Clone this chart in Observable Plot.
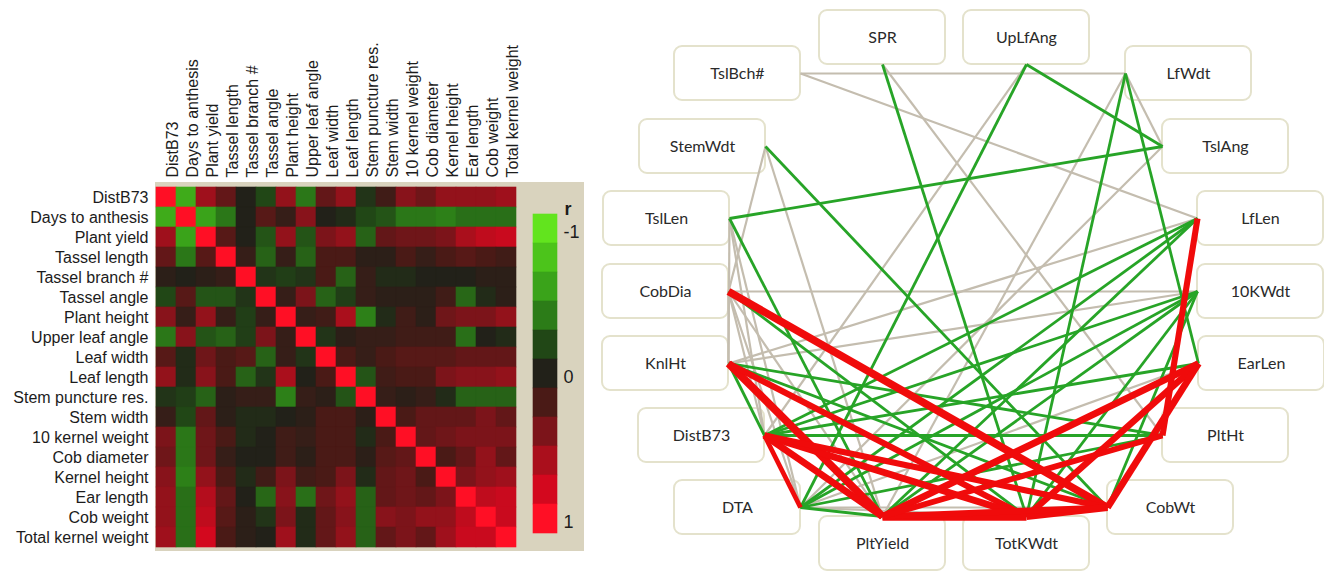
<!DOCTYPE html>
<html><head><meta charset="utf-8">
<script src="https://cdn.jsdelivr.net/npm/d3@7"></script>
<script src="https://cdn.jsdelivr.net/npm/@observablehq/plot@0.6"></script>
<style>
html,body{margin:0;padding:0;background:#fff;}
#wrap{position:relative;width:1324px;height:571px;overflow:hidden;}
#wrap > *{position:absolute;}
#beige{left:155px;top:182px;width:429px;height:369px;background:#d9d3be;}
#heat{left:0;top:0;}
#legend{left:520px;top:190px;}
#net{left:600px;top:0;}
</style></head><body>
<div id="wrap"><div id="beige"></div><div id="heat"></div><div id="legend"></div><div id="net"></div></div>
<script>
// ---------- heatmap data ----------
const traits = ["DistB73","Days to anthesis","Plant yield","Tassel length","Tassel branch #","Tassel angle",
  "Plant height","Upper leaf angle","Leaf width","Leaf length","Stem puncture res.","Stem width",
  "10 kernel weight","Cob diameter","Kernel height","Ear length","Cob weight","Total kernel weight"];
const corr = [
  [1,-0.65,0.55,0.3,0,-0.2,0.5,-0.38,0.3,0.5,-0.1,0.15,0.45,0.35,0.5,0.5,0.5,0.55],
  [-0.65,1,-0.6,-0.38,0,0.25,0.1,0.45,0,-0.05,-0.2,-0.25,-0.38,-0.38,-0.42,-0.35,-0.35,-0.35],
  [0.55,-0.6,1,0.25,0,-0.25,0.5,-0.25,0.4,0.5,-0.3,0.3,0.35,0.35,0.4,0.6,0.7,0.75],
  [0.3,-0.38,0.25,1,0.1,-0.3,0.1,-0.3,0.2,0.2,0.05,0.05,0.2,0.1,0.2,0.25,0.2,0.15],
  [0.05,0,0.05,0.1,1,-0.1,-0.15,-0.1,0.2,-0.3,0.1,-0.05,-0.05,0,0,0,0.05,0.05],
  [-0.2,0.25,-0.25,-0.25,-0.1,1,0.1,0.4,-0.3,-0.15,0.1,0.05,0.05,0.05,0.15,-0.32,-0.05,0.05],
  [0.45,0.1,0.5,0.1,-0.15,0.1,1,0.1,0.15,0.6,-0.42,-0.05,0.15,0.05,0.35,0.4,0.4,0.5],
  [-0.38,0.45,-0.25,-0.3,-0.15,0.4,0.1,1,-0.1,0.05,0.1,0.1,0.15,0.15,0.15,-0.35,0,-0.05],
  [0.25,-0.05,0.35,0.2,0.25,-0.3,0.1,-0.1,1,0.2,0.1,0.2,0.25,0.25,0.25,0.3,0.3,0.3],
  [0.5,-0.05,0.45,0.2,-0.3,-0.1,0.6,0,0.2,1,-0.25,0.15,0.2,0.2,0.4,0.45,0.45,0.5],
  [-0.1,-0.15,-0.3,0.05,0.1,0.1,-0.42,0.1,0.05,-0.25,1,0.1,0.05,0.1,-0.05,-0.3,-0.3,-0.3],
  [0.1,-0.2,0.3,0.05,-0.05,-0.05,0,0.05,0.2,0.2,0.05,1,0.2,0.3,0.3,0.3,0.4,0.3],
  [0.4,-0.38,0.35,0.2,-0.05,0,0.15,0.1,0.2,0.2,-0.05,0.2,1,0.3,0.35,0.4,0.4,0.4],
  [0.35,-0.38,0.35,0.1,0,0,0.15,0.05,0.2,0.2,0.05,0.25,0.3,1,0.2,0.3,0.5,0.3],
  [0.45,-0.42,0.5,0.2,-0.05,0.15,0.4,0.15,0.2,0.4,-0.05,0.3,0.35,0.2,1,0.4,0.5,0.55],
  [0.5,-0.35,0.65,0.3,0,-0.32,0.45,-0.35,0.35,0.5,-0.3,0.3,0.35,0.3,0.4,1,0.7,0.75],
  [0.5,-0.35,0.7,0.25,0.05,-0.1,0.4,-0.05,0.3,0.45,-0.3,0.45,0.4,0.5,0.5,0.7,1,0.75],
  [0.55,-0.35,0.8,0.2,0.05,0,0.55,-0.05,0.3,0.5,-0.3,0.3,0.4,0.3,0.55,0.75,0.75,1]
];
const legendBins = [-1,-0.8,-0.6,-0.4,-0.2,0,0.2,0.4,0.6,0.8,1];
const legendTicks = [-1,0,1];
const binColors = ["#62e41e","#4cc41b","#3aa31a","#2c7c18","#214716","#222119","#4a1a16","#7c141a","#aa0f1c","#d3081e","#ff0f25"];

// ---------- network data ----------
const nodeNames = ["SPR","UpLfAng","TslBch#","LfWdt","StemWdt","TslAng","TslLen","LfLen","CobDia","10KWdt",
  "KnlHt","EarLen","DistB73","PltHt","DTA","CobWt","PltYield","TotKWdt"];
const redEdges = [
  ["LfLen","PltHt",0.7],["CobDia","CobWt",0.8],["KnlHt","PltYield",0.8],["KnlHt","TotKWdt",0.7],
  ["DistB73","PltYield",0.75],["DistB73","TotKWdt",0.75],["DistB73","CobWt",0.7],["DistB73","DTA",0.62],
  ["PltYield","TotKWdt",0.85],["PltYield","EarLen",0.75],["TotKWdt","EarLen",0.72],["TotKWdt","CobWt",0.75],
  ["CobWt","EarLen",0.75],["PltYield","CobWt",0.7],["PltYield","PltHt",0.68]
];
const greenEdges = [
  ["SPR","TotKWdt",0.45],["UpLfAng","TslAng",0.45],["UpLfAng","DTA",0.45],["LfWdt","TotKWdt",0.45],
  ["LfWdt","EarLen",0.45],["TslAng","TslLen",0.45],["StemWdt","CobWt",0.45],["TslLen","PltYield",0.45],
  ["CobDia","TotKWdt",0.45],["LfLen","DistB73",0.45],["LfLen","DTA",0.45],["LfLen","PltYield",0.45],
  ["10KWdt","DistB73",0.45],["10KWdt","DTA",0.45],["10KWdt","PltYield",0.45],["10KWdt","TotKWdt",0.45],
  ["10KWdt","CobWt",0.45],["DistB73","PltHt",0.45],["DistB73","EarLen",0.45],["KnlHt","DTA",0.45],
  ["KnlHt","CobWt",0.45],["KnlHt","PltHt",0.45],["DTA","PltYield",0.45],["DTA","PltHt",0.45]
];
const grayEdges = [
  ["TslBch#","LfWdt",0.3],["TslBch#","LfLen",0.3],["SPR","PltHt",0.3],["UpLfAng","DistB73",0.3],
  ["LfWdt","TslAng",0.3],["LfWdt","PltYield",0.3],["TslAng","DTA",0.3],["StemWdt","CobDia",0.3],
  ["StemWdt","PltYield",0.3],["LfLen","KnlHt",0.3],["CobDia","10KWdt",0.3],["KnlHt","10KWdt",0.3],
  ["CobDia","KnlHt",0.3],["TslLen","KnlHt",0.3],["TslLen","DistB73",0.3],["TslLen","DTA",0.3],
  ["CobDia","DistB73",0.3],["CobDia","DTA",0.3],["CobDia","PltYield",0.3],["DTA","TotKWdt",0.3],
  ["DTA","CobWt",0.3],["DTA","EarLen",0.3]
];
// network layout (box centres, page pixels) and side where links attach
const layoutX = [882,1026,737,1188,702,1225,666,1260,665,1260,665,1261,701,1225,737,1170,882,1026];
const layoutY = [37,37,73,73,146,146,218,218,291,291,363,363,435,435,507,507,543,543];
const layoutSide = ["bottom","bottom","right","left","right","left","right","left","right","left",
  "right","left","right","left","right","left","top","top"];

// ---------- heatmap ----------
const cells = [];
traits.forEach((row, i) => traits.forEach((col, j) => cells.push({row, col, r: corr[i][j]})));
const colorScale = {type: "linear", domain: legendBins, range: binColors, interpolate: "rgb"};
const font = "'Liberation Sans', Arial, sans-serif";

const heat = Plot.plot({
  width: 600, height: 571,
  marginLeft: 155, marginTop: 185, marginRight: 83, marginBottom: 23,
  style: {fontFamily: font, background: "transparent", color: "#1c1c1c"},
  x: {domain: traits, padding: 0, axis: null},
  y: {domain: traits, padding: 0, axis: null},
  color: colorScale,
  marks: [
    Plot.cell(cells, {x: "col", y: "row", fill: "r", stroke: "r", strokeWidth: 0.6}),
    Plot.text(traits, {x: d => d, frameAnchor: "top", dy: -8, rotate: -90, textAnchor: "start", fontSize: 16, fill: "#1c1c1c"}),
    Plot.text(traits, {y: d => d, frameAnchor: "left", dx: -7, textAnchor: "end", fontSize: 16, fill: "#1c1c1c"})
  ]
});
document.getElementById("heat").appendChild(heat);

const legend = Plot.plot({
  width: 80, height: 380,
  marginLeft: 13, marginRight: 43, marginTop: 22, marginBottom: 35,
  style: {fontFamily: font, background: "transparent", color: "#1c1c1c"},
  x: {domain: ["r"], padding: 0, axis: null},
  y: {domain: legendBins, padding: 0, axis: null},
  color: colorScale,
  marks: [
    Plot.cell(legendBins, {x: () => "r", y: d => d, fill: d => d, stroke: d => d, strokeWidth: 0.6}),
    Plot.text(legendTicks, {y: d => d, frameAnchor: "right", dx: 6, dy: 3, textAnchor: "start", text: d => String(d), fontSize: 18, fill: "#1c1c1c"}),
    Plot.text(["r"], {frameAnchor: "top-right", dx: 7, dy: -10, textAnchor: "start", fontSize: 18, fontWeight: "bold", fill: "#1c1c1c"})
  ]
});
document.getElementById("legend").appendChild(legend);

// ---------- network ----------
const nodes = nodeNames.map((name, i) => ({name, x: layoutX[i], y: layoutY[i], side: layoutSide[i]}));
const byName = new Map(nodes.map(n => [n.name, n]));
const halfW = 63, halfH = 27;
function anchorOf(n) {
  if (n.side === "bottom") return [n.x, n.y + halfH];
  if (n.side === "top") return [n.x, n.y - halfH];
  if (n.side === "right") return [n.x + halfW, n.y];
  return [n.x - halfW, n.y];
}
function toLinks(list, cls) {
  return list.map(([a, b, r]) => {
    const [x1, y1] = anchorOf(byName.get(a));
    const [x2, y2] = anchorOf(byName.get(b));
    return {x1, y1, x2, y2, r, cls};
  });
}
const links = [...toLinks(grayEdges, "weak"), ...toLinks(greenEdges, "moderate"), ...toLinks(redEdges, "strong")];
const widthOf = d => d.cls === "strong" ? 4.5 + (d.r - 0.6) * 16 : d.cls === "moderate" ? 2.8 : 2.2;

const net = Plot.plot({
  width: 724, height: 571, margin: 0,
  style: {fontFamily: "Lato, 'Open Sans', sans-serif", background: "transparent"},
  x: {domain: [600, 1324], range: [0, 724], axis: null},
  y: {domain: [0, 571], range: [0, 571], axis: null},
  color: {domain: ["weak", "moderate", "strong"], range: ["#c4bdaf", "#27a427", "#f00b0b"]},
  marks: [
    Plot.rect(nodes, {x1: d => d.x - halfW, x2: d => d.x + halfW, y1: d => d.y - halfH, y2: d => d.y + halfH,
      rx: 8, fill: "white", stroke: "#e4e2cc", strokeWidth: 2}),
    Plot.link(links, {x1: "x1", y1: "y1", x2: "x2", y2: "y2", stroke: "cls", strokeWidth: widthOf}),
    Plot.text(nodes, {x: "x", y: "y", text: "name", fontSize: 16, fill: "#2a2a2a"})
  ]
});
document.getElementById("net").appendChild(net);
</script></body></html>
